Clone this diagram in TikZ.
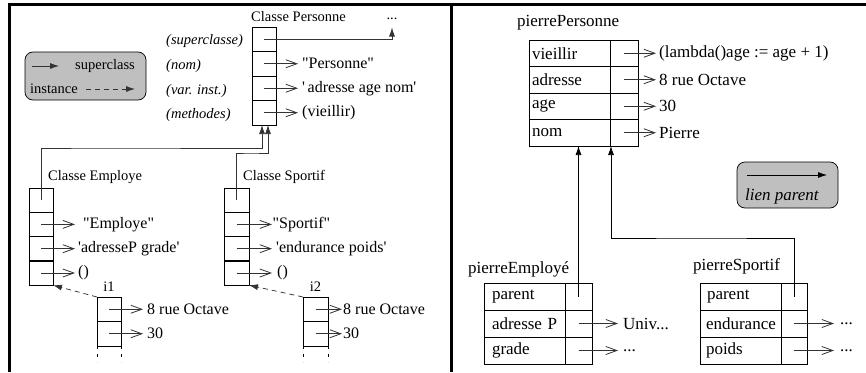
\documentclass[tikz,border=0pt]{standalone}
\usepackage{fontspec}
\setmainfont{Liberation Serif}
\usetikzlibrary{arrows.meta}
\begin{document}
\begin{tikzpicture}[x=1pt,y=-1pt,
  fL/.style={font=\fontsize{14.5}{16}\selectfont},
  fV/.style={font=\fontsize{16}{18}\selectfont},
  fR/.style={font=\fontsize{17}{19}\selectfont},
  lbl/.style={fL, inner sep=0pt, anchor=west},
  ital/.style={font=\fontsize{14.5}{16}\selectfont\itshape, inner sep=0pt, anchor=west},
  lval/.style={fV, inner xsep=4pt, inner ysep=0pt, anchor=west},
  rlbl/.style={fR, inner sep=0pt, anchor=west},
  rval/.style={fR, inner xsep=4pt, inner ysep=0pt, anchor=west},
  lcell/.style={draw, line width=0.7pt, minimum width=24pt, minimum height=24.4pt, inner sep=0pt, outer sep=0pt},
  rname/.style={fR, draw, line width=0.7pt, minimum height=#1, inner ysep=0pt, align=left, outer sep=0pt},
  rptr/.style={draw, line width=0.7pt, minimum height=#1, inner sep=0pt, outer sep=0pt},
  conn/.style={line width=0.75pt, black!80},
  farr/.style={conn, -{Latex[length=9pt,width=6pt]}},
  oarr/.style={conn, -{Straight Barb[length=11pt,width=8pt,line width=0.8pt]}},
  iarr/.style={conn, dash pattern=on 5pt off 4pt, -{Latex[length=9pt,width=6pt]}},
  legendbox/.style={draw, line width=0.7pt, fill=black!25, rounded corners=8pt, inner sep=0pt}
]
\useasboundingbox (0,0) rectangle (866,372);
% frame
\draw[line width=3pt] (9,372) -- (9,4) -- (866,4);
\draw[line width=3pt] (451.5,4) -- (451.5,372);

% ---------- left panel ----------
% legend
\node[legendbox, minimum width=121pt, minimum height=48pt] (legL) at (85.5,76) {};
\coordinate (la1) at (32,66); \coordinate (la2) at (59,66);
\draw[farr] (la1) -- (la2);
\node[lbl] (lsup) at (75,66) {superclass};
\node[lbl] (linst) at (30,89) {instance};
\coordinate (lb1) at (86,89); \coordinate (lb2) at (135,89);
\draw[iarr] (lb1) -- (lb2);

% Classe Personne
\node[lbl] (tPers) at (251,17) {Classe Personne};
\node[lcell] (p1) at (264,39.25) {};
\node[lcell] (p2) at (264,63.75) {};
\node[lcell] (p3) at (264,88.25) {};
\node[lcell] (p4) at (264,112.75) {};
\node[ital] (i1l) at (166,41) {(superclasse)};
\node[ital] (i2l) at (166,66) {(nom)};
\node[ital] (i3l) at (166,91) {(var. inst.)};
\node[ital] (i4l) at (166,115) {(methodes)};
\node[lval] (vp2) at (298,63.75) {\textquotedbl Personne\textquotedbl};
\node[lval] (vp3) at (298,88.25) {\textquotesingle\,adresse age nom\textquotesingle};
\node[lval] (vp4) at (298,112.75) {(vieillir)};
\draw[oarr] (p2.center) -- (vp2.west);
\draw[oarr] (p3.center) -- (vp3.west);
\draw[oarr] (p4.center) -- (vp4.west);
\node[lbl, anchor=center] (dots) at (392,19) {...};
\coordinate (supTip) at (392,27.5);
\draw[farr] (p1.center) -| (supTip);
\coordinate (pb1) at (262,125);
\coordinate (pb2) at (268,125);

% Classe Employe
\node[lbl] (tEmp) at (48,177) {Classe Employe};
\node[lcell] (e1) at (41,200.1) {};
\node[lcell] (e2) at (41,224.4) {};
\node[lcell] (e3) at (41,248.7) {};
\node[lcell] (e4) at (41,273) {};
\node[lval, inner xsep=3pt] (ve2) at (75,224.4) {\hspace*{5pt}\textquotedbl Employe\textquotedbl};
\node[lval, inner xsep=3pt] (ve3) at (75,248.7) {\textquotesingle adresseP grade\textquotesingle};
\node[lval, inner xsep=3pt] (ve4) at (75,273) {()};
\draw[oarr] (e2.center) -- (ve2.west);
\draw[oarr] (e3.center) -- (ve3.west);
\draw[oarr] (e4.center) -- (ve4.west);
\coordinate (k1) at (100,148);
\draw[farr] (e1.center) |- (k1) -| (pb1);

% Classe Sportif
\node[lbl] (tSpo) at (243,177) {Classe Sportif};
\node[lcell, minimum width=25pt] (s1) at (236.5,200.1) {};
\node[lcell, minimum width=25pt] (s2) at (236.5,224.4) {};
\node[lcell, minimum width=25pt] (s3) at (236.5,248.7) {};
\node[lcell, minimum width=25pt] (s4) at (236.5,273) {};
\node[lval, inner xsep=0.5pt] (vs2) at (272,224.4) {\textquotedbl Sportif\textquotedbl};
\node[lval, inner xsep=4pt] (vs3) at (272,248.7) {\textquotesingle endurance poids\textquotesingle};
\node[lval, inner xsep=5pt] (vs4) at (272,273) {()};
\draw[oarr] (s2.center) -- (vs2.west);
\draw[oarr] (s3.center) -- (vs3.west);
\draw[oarr] (s4.center) -- (vs4.west);
\coordinate (k2) at (250,153);
\draw[farr] (s1.center) |- (k2) -| (pb2);

% instance i1
\node[lbl, anchor=center] (ti1) at (109,287) {i1};
\node[lcell, minimum height=24.5pt] (a1) at (109,309.25) {};
\node[lcell, minimum height=24.5pt] (a2) at (109,333.75) {};
\draw[line width=0.7pt, dash pattern=on 3pt off 5pt] (a2.south west) -- ++(0,16);
\draw[line width=0.7pt, dash pattern=on 3pt off 5pt] (a2.south east) -- ++(0,16);
\node[lval] (va1) at (143,309.25) {8 rue Octave};
\node[lval] (va2) at (143,333.75) {30};
\draw[oarr] (a1.center) -- (va1.west);
\draw[oarr] (a2.center) -- (va2.west);
\draw[iarr] (a1.north west) -- (e4.south east);

% instance i2
\node[lbl, anchor=center] (ti2) at (315.5,287) {i2};
\node[lcell, minimum width=25pt, minimum height=24.5pt] (b1) at (315.5,309.25) {};
\node[lcell, minimum width=25pt, minimum height=24.5pt] (b2) at (315.5,333.75) {};
\draw[line width=0.7pt, dash pattern=on 3pt off 5pt] (b2.south west) -- ++(0,16);
\draw[line width=0.7pt, dash pattern=on 3pt off 5pt] (b2.south east) -- ++(0,16);
\node[lval, inner xsep=1pt] (vb1) at (342,309.25) {8 rue Octave};
\node[lval, inner xsep=1pt] (vb2) at (342,333.75) {30};
\draw[oarr] (b1.center) -- (vb1.west);
\draw[oarr] (b2.center) -- (vb2.west);
\draw[iarr] (b1.north west) -- (s4.south east);

% ---------- right panel ----------
\node[rlbl] (tPP) at (517,23) {pierrePersonne};
\node[rname=26.5pt, text width=75pt, inner xsep=3pt] (pn1) at (569.5,53.25) {vieillir};
\node[rname=26.5pt, text width=75pt, inner xsep=3pt] (pn2) at (569.5,79.75) {adresse};
\node[rname=26.5pt, text width=75pt, inner xsep=3pt] (pn3) at (569.5,106.25) {age};
\node[rname=26.5pt, text width=75pt, inner xsep=3pt] (pn4) at (569.5,132.75) {nom};
\node[rptr=26.5pt, minimum width=28pt] (pp1) at (624,53.25) {};
\node[rptr=26.5pt, minimum width=28pt] (pp2) at (624,79.75) {};
\node[rptr=26.5pt, minimum width=28pt] (pp3) at (624,106.25) {};
\node[rptr=26.5pt, minimum width=28pt] (pp4) at (624,132.75) {};
\node[rval, inner xsep=3pt] (rv1) at (656,53.25) {(lambda()age := age + 1)};
\node[rval, inner xsep=3pt] (rv2) at (656,79.75) {8 rue Octave};
\node[rval, inner xsep=3pt] (rv3) at (656,106.25) {30};
\node[rval, inner xsep=3pt] (rv4) at (656,132.75) {Pierre};
\draw[oarr] (pp1.center) -- (rv1.west);
\draw[oarr] (pp2.center) -- (rv2.west);
\draw[oarr] (pp3.center) -- (rv3.west);
\draw[oarr] (pp4.center) -- (rv4.west);

% legend right
\node[legendbox, minimum width=101pt, minimum height=46pt] (legR) at (787.5,185) {};
\coordinate (lc1) at (747,175); \coordinate (lc2) at (827,175);
\draw[farr, black] (lc1) -- (lc2);
\node[rlbl, font=\fontsize{17}{19}\selectfont\itshape] (tlien) at (745,196) {lien parent};

% pierreEmploye
\node[rlbl] (tPE) at (468,269) {pierreEmployé};
\node[rname=27pt, text width=65pt, inner xsep=8pt] (en1) at (524.5,296.5) {parent};
\node[rname=27pt, text width=65pt, inner xsep=8pt] (en2) at (524.5,323.5) {\mbox{adresse P}};
\node[rname=27pt, text width=65pt, inner xsep=8pt] (en3) at (524.5,350.5) {grade};
\node[rptr=27pt, minimum width=27pt] (ep1) at (578.5,296.5) {};
\node[rptr=27pt, minimum width=27pt] (ep2) at (578.5,323.5) {};
\node[rptr=27pt, minimum width=27pt] (ep3) at (578.5,350.5) {};
\node[rval, inner xsep=5pt] (ev2) at (618,323.5) {Univ...};
\node[rval, inner xsep=5pt] (ev3) at (618,350.5) {...};
\draw[oarr] (ep2.center) -- (ev2.west);
\draw[oarr] (ep3.center) -- (ev3.west);

% pierreSportif
\node[rlbl] (tPS) at (693,266) {pierreSportif};
\node[rname=27pt, text width=69pt, inner xsep=6pt] (sn1) at (740.5,296.5) {\hspace*{1pt}parent};
\node[rname=27pt, text width=69pt, inner xsep=6pt] (sn2) at (740.5,323.5) {endurance};
\node[rname=27pt, text width=69pt, inner xsep=6pt] (sn3) at (740.5,350.5) {poids};
\node[rptr=27pt, minimum width=26pt] (sp1) at (794,296.5) {};
\node[rptr=27pt, minimum width=26pt] (sp2) at (794,323.5) {};
\node[rptr=27pt, minimum width=26pt] (sp3) at (794,350.5) {};
\node[rval, inner xsep=6pt] (sv2) at (834,323.5) {...};
\node[rval, inner xsep=6pt] (sv3) at (834,350.5) {...};
\draw[oarr] (sp2.center) -- (sv2.west);
\draw[oarr] (sp3.center) -- (sv3.west);

% parent links
\draw[farr, black] (ep1.center) -- (ep1.center |- pn4.south);
\coordinate (ppb2) at (611,146);
\coordinate (k3) at (700,238);
\draw[farr, black] (sp1.center) |- (k3) -| (ppb2);
\end{tikzpicture}
\end{document}
